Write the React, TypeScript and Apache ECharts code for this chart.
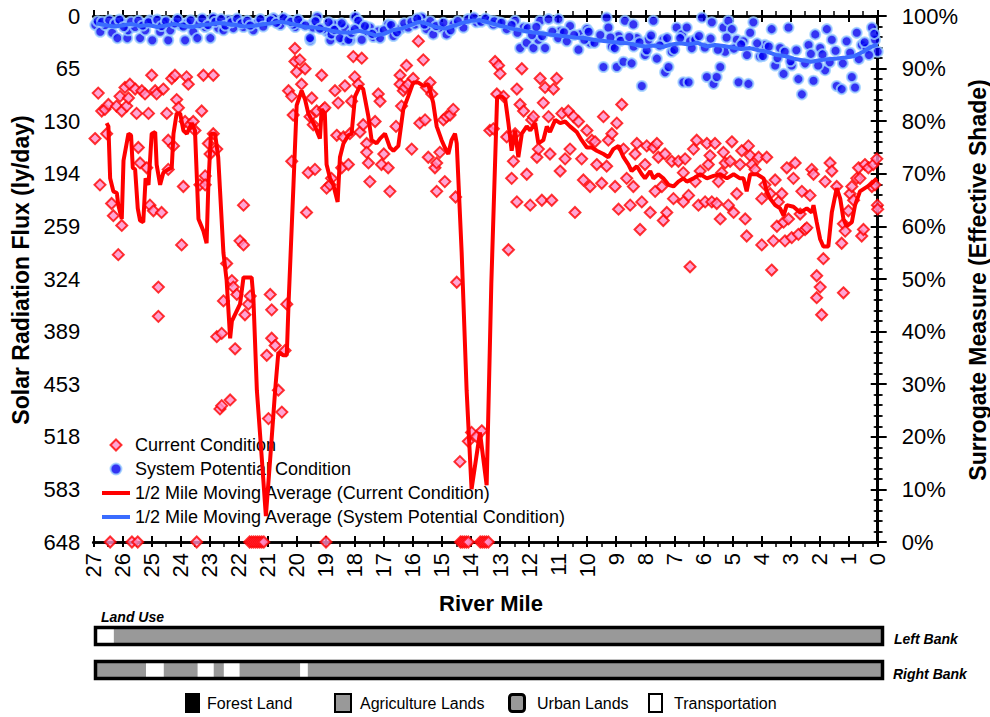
import React, { useEffect, useRef } from "react";
import * as echarts from "echarts";

// River mile axis (27 at the upstream/left end, 0 at the mouth)
const MILE_MIN = 0;
const MILE_MAX = 27;

// Left axis: solar radiation flux, ly/day (0 at top, 648 at bottom)
const FLUX_MAX = 648;
const FLUX_STEP = 64.8;
const FLUX_TICK_LABELS = ["0", "65", "130", "194", "259", "324", "389", "453", "518", "583", "648"];

// Right axis: effective shade in percent
const SHADE_TICK_LABELS = ["0%", "10%", "20%", "30%", "40%", "50%", "60%", "70%", "80%", "90%", "100%"];

const SERIES_NAMES = [
  "Current Condition",
  "System Potential Condition",
  "1/2 Mile Moving Average (Current Condition)",
  "1/2 Mile Moving Average (System Potential Condition)",
];

// Current condition samples: [river mile, flux ly/day]
const CURRENT_POINTS: [number, number][] = [
  [26.83, 95], [26.77, 208], [26.94, 151], [26.71, 117], [26.6, 115], [26.48, 109], [26.54, 145], [26.37, 231],
  [26.31, 246], [26.2, 111], [26.14, 294], [26.08, 99], [26.02, 117], [26.02, 258], [25.91, 88], [25.85, 111],
  [25.79, 101], [25.74, 84], [25.56, 90], [25.51, 120], [25.45, 162], [25.39, 181], [25.33, 92], [25.22, 96],
  [25.16, 187], [25.1, 120], [25.05, 233], [24.99, 73], [24.93, 240], [24.87, 92], [24.82, 96], [24.76, 334],
  [24.76, 370], [24.65, 242], [24.59, 90], [24.47, 120], [24.42, 153], [24.42, 189], [24.3, 77], [24.24, 160],
  [24.19, 73], [24.13, 103], [24.07, 113], [23.96, 282], [23.9, 210], [23.84, 130], [23.79, 75], [23.73, 84],
  [23.67, 134], [23.56, 130], [23.5, 141], [23.33, 208], [23.27, 117], [23.21, 73], [23.15, 197], [23.15, 208],
  [23.04, 157], [22.98, 170], [22.87, 73], [22.87, 145], [22.75, 164], [22.75, 395], [22.64, 484], [22.58, 480],
  [22.58, 391], [22.52, 351], [22.41, 305], [22.29, 473], [22.23, 326], [22.18, 334], [22.12, 410], [22.06, 343],
  [21.95, 277], [21.83, 282], [21.83, 233], [21.78, 368], [21.66, 355], [21.6, 345], [21.03, 418], [20.97, 496],
  [20.91, 343], [20.86, 362], [20.86, 397], [20.74, 406], [20.63, 461], [20.51, 488], [20.4, 412], [20.34, 355],
  [20.28, 92], [20.06, 56],
  [20.06, 40], [19.89, 54], [20.0, 69], [19.71, 65], [19.83, 84], [20.17, 99], [20.12, 122], [20.17, 179],
  [19.66, 242], [19.6, 193], [19.37, 189], [19.48, 101], [19.54, 124], [19.43, 134], [19.31, 117], [19.14, 73],
  [19.08, 115], [19.03, 113], [18.97, 212], [18.85, 208], [18.8, 200], [18.68, 92], [18.57, 107], [18.62, 147],
  [18.45, 187], [18.39, 149], [18.34, 86], [18.22, 183], [18.17, 145], [18.11, 105], [18.05, 50], [18.0, 75],
  [17.88, 84], [17.76, 52], [17.82, 143], [17.71, 134], [17.59, 157], [17.59, 168], [17.53, 181], [17.48, 204],
  [17.3, 130], [17.19, 96], [17.13, 105], [17.08, 183], [17.0, 170], [16.85, 187], [16.79, 216], [16.58, 136],
  [16.44, 73], [16.44, 84], [16.39, 111], [16.33, 92], [16.27, 88], [16.22, 61], [16.16, 84], [16.04, 164],
  [15.99, 77], [15.81, 31], [15.76, 132], [15.64, 54], [15.58, 128], [15.53, 88], [15.41, 82], [15.47, 174],
  [15.35, 96], [15.24, 187], [15.18, 181], [15.18, 216], [15.07, 168], [14.95, 128], [14.9, 204], [14.84, 124],
  [14.72, 122], [14.61, 115], [14.53, 223], [14.49, 328], [14.38, 549], [14.09, 524], [13.98, 513], [13.81, 518],
  [13.63, 511], [13.35, 141],
  [13.17, 56], [13.05, 61], [13.0, 71], [13.11, 96], [12.88, 99], [13.23, 139], [12.77, 149], [12.71, 288],
  [12.6, 200], [12.54, 179], [12.48, 145], [12.42, 90], [12.42, 229], [12.31, 109], [12.25, 65], [12.19, 117],
  [12.08, 195], [11.96, 233], [11.91, 128], [11.85, 124], [11.73, 174], [11.68, 164], [11.62, 77], [11.56, 227],
  [11.51, 107], [11.45, 88], [11.33, 124], [11.28, 170], [11.22, 227], [11.16, 90], [11.05, 77], [10.93, 191],
  [10.87, 120], [10.76, 176], [10.65, 117], [10.59, 164], [10.47, 124], [10.42, 242], [10.3, 130], [10.19, 176],
  [10.13, 202], [10.01, 141], [9.9, 210], [9.84, 153], [9.73, 155], [9.67, 183], [9.5, 206], [9.44, 124],
  [9.33, 185], [9.27, 153], [9.15, 145], [9.04, 210], [8.98, 132], [8.92, 238], [8.81, 109], [8.75, 164],
  [8.64, 200], [8.52, 233], [8.41, 210], [8.35, 170], [8.29, 157], [8.18, 263], [8.12, 229], [8.01, 183],
  [7.95, 160], [7.83, 242], [7.72, 162], [7.66, 216], [7.6, 157], [7.55, 174], [7.43, 210], [7.38, 252],
  [7.32, 170], [7.26, 242], [7.09, 179], [7.03, 225], [6.86, 179],
  [6.63, 176], [6.69, 193], [6.69, 229], [6.51, 221], [6.46, 309], [6.34, 164], [6.28, 204], [6.23, 153],
  [6.17, 233], [6.11, 191], [5.94, 229], [5.88, 157], [5.83, 183], [5.77, 172], [5.71, 229], [5.6, 157],
  [5.54, 231], [5.48, 204], [5.42, 250], [5.37, 193], [5.31, 168], [5.25, 181], [5.14, 233], [5.08, 179],
  [5.02, 155], [4.96, 242], [4.85, 219], [4.74, 183], [4.68, 166], [4.56, 250], [4.51, 271], [4.45, 160],
  [4.39, 172], [4.33, 183], [4.22, 189], [4.1, 174], [3.99, 282], [3.99, 225], [3.88, 208], [3.82, 174],
  [3.7, 219], [3.65, 313], [3.59, 277], [3.53, 202], [3.47, 259], [3.42, 229], [3.3, 219], [3.24, 254],
  [3.19, 277], [3.13, 187], [3.07, 250], [2.96, 273], [2.9, 200], [2.84, 181], [2.73, 269], [2.67, 244],
  [2.61, 216], [2.5, 263], [2.44, 261], [2.33, 221], [2.27, 189], [2.21, 195], [2.1, 320], [1.98, 334],
  [2.1, 347], [1.93, 368], [1.87, 299], [1.81, 204], [1.64, 181], [1.58, 191], [1.41, 210], [1.24, 280],
  [1.18, 341], [1.18, 256], [1.12, 265], [1.01, 240], [0.95, 219], [0.89, 210], [0.83, 227], [0.72, 200],
  [0.66, 187], [0.61, 200], [0.55, 271], [0.49, 263], [0.44, 183], [0.32, 187], [0.2, 210], [0.15, 183],
  [0.09, 208], [0.03, 176], [0.01, 233], [0.0, 238],
  // reaches with no effective shade data sit on the bottom of the axis
  [26.42, 648], [25.67, 648], [25.47, 648], [23.44, 648], [21.62, 648], [21.55, 648], [21.48, 648], [21.41, 648],
  [21.34, 648], [21.27, 648], [21.2, 648], [21.13, 648], [18.99, 648], [14.36, 648], [14.3, 648], [14.23, 648],
  [14.16, 648], [14.09, 648], [13.68, 648], [13.61, 648], [13.54, 648], [13.47, 648], [13.4, 648],
];

// System potential samples: [river mile, effective shade %]
const POTENTIAL_POINTS: [number, number][] = [
  [26.93, 98.3], [26.76, 97.0], [26.59, 98.3], [26.35, 96.8], [26.17, 95.8], [26.0, 98.7], [25.83, 95.8], [25.8, 97.3],
  [25.56, 97.9], [25.39, 95.8], [25.21, 97.3], [25.04, 99.2], [24.97, 95.4], [24.7, 97.0], [24.59, 98.9], [24.42, 95.4],
  [24.35, 97.3], [24.01, 98.3], [23.84, 95.4], [23.77, 98.7], [23.56, 97.0], [23.42, 95.8], [23.15, 97.9], [22.97, 95.8],
  [22.87, 99.6], [22.7, 97.7], [22.52, 97.3], [22.35, 99.2], [22.18, 97.7], [21.94, 98.9], [21.83, 97.9], [21.49, 97.3],
  [21.35, 98.7], [21.01, 98.9], [20.8, 99.6], [20.56, 98.3], [20.32, 99.2], [20.05, 97.9], [19.88, 98.7], [19.53, 95.4],
  [19.43, 98.7], [19.29, 99.8], [18.95, 97.0], [18.84, 95.4], [18.57, 98.3], [18.39, 95.4], [18.15, 95.4], [17.98, 99.8],
  [17.81, 98.3], [17.57, 97.0], [17.36, 96.0],
  [20.12, 98.4], [19.54, 95.8], [19.43, 97.8], [19.08, 97.5], [18.8, 96.5], [18.74, 98.4], [18.51, 95.8], [18.34, 97.8],
  [18.22, 95.5], [18.11, 96.8], [17.88, 99.1], [17.76, 95.5], [17.48, 97.8], [17.19, 97.1], [17.13, 95.8], [16.85, 98.4],
  [16.67, 96.2], [16.44, 97.5], [16.16, 97.8], [15.93, 98.4], [15.76, 99.1], [15.7, 99.7], [15.53, 97.5], [15.3, 96.5],
  [15.07, 97.8], [14.84, 96.5], [14.61, 98.4], [14.26, 97.8], [13.81, 98.8], [13.35, 99.1], [13.06, 98.8],
  [13.23, 98.4], [12.77, 97.5], [12.48, 99.1], [12.31, 93.9], [12.19, 97.8], [12.08, 94.9], [11.85, 93.9], [11.68, 95.5],
  [11.62, 99.1], [11.45, 93.9], [11.33, 99.4], [10.99, 99.4], [10.93, 97.1], [10.59, 98.1], [10.3, 93.6], [10.24, 96.5],
  [10.01, 97.5], [9.9, 94.9], [9.44, 90.3], [9.33, 99.7], [9.27, 97.8], [9.15, 94.2], [8.98, 90.3], [8.92, 96.2],
  [8.75, 91.3], [8.7, 99.1], [8.47, 91.0], [8.41, 98.4], [8.29, 95.8], [8.12, 86.7], [8.01, 92.6], [7.89, 95.5],
  [7.72, 99.1], [7.6, 91.9], [7.38, 95.5], [7.32, 89.3], [7.2, 90.3], [7.09, 93.2], [6.92, 97.8], [6.74, 96.5],
  [6.69, 87.4], [6.51, 87.4], [6.57, 97.8], [6.46, 95.2], [6.28, 95.5], [6.05, 99.7], [5.88, 88.4], [5.71, 98.8],
  [5.65, 87.1], [5.54, 88.4], [5.42, 90.3], [5.31, 97.8], [5.25, 93.2], [5.14, 99.1], [5.02, 97.5], [4.85, 95.5],
  [4.79, 87.4], [4.62, 95.2], [4.45, 87.1], [4.39, 96.8], [4.28, 98.8], [4.05, 92.3], [3.88, 94.5], [3.65, 97.5],
  [3.53, 90.6], [3.36, 93.9], [3.24, 89.0], [3.07, 97.8], [2.96, 90.6], [2.73, 88.0], [2.61, 85.1], [2.38, 94.5],
  [2.21, 87.7], [2.15, 96.5], [1.98, 93.9], [1.81, 89.7], [1.75, 97.5], [1.58, 95.5], [1.41, 86.7], [1.24, 86.1],
  [1.07, 95.2], [0.89, 88.4], [0.78, 86.4], [0.72, 96.8], [0.55, 94.5], [0.38, 93.9], [0.2, 97.8], [0.09, 95.5],
  [0.0, 93.2],
  [26.85, 99.0], [26.7, 98.9], [26.45, 99.2], [26.25, 98.6], [26.1, 99.3], [25.95, 97.9], [25.7, 98.9], [25.45, 99.1],
  [25.3, 98.2], [25.1, 98.8], [24.8, 99.3], [24.65, 98.1], [24.5, 99.0], [24.2, 98.6], [24.1, 99.4], [23.9, 98.0],
  [23.65, 99.2], [23.35, 98.5], [23.25, 99.5], [23.05, 98.3], [22.8, 98.9], [22.6, 99.4], [22.45, 98.2], [22.25, 98.8],
  [22.05, 99.5], [21.9, 98.6], [21.7, 99.1], [21.6, 98.2], [21.25, 99.4], [21.15, 98.0], [20.9, 99.2], [20.7, 98.7],
  [20.45, 99.6], [20.2, 98.9], [19.95, 99.3], [19.7, 98.2], [19.35, 99.0], [19.2, 97.6], [18.9, 98.8], [18.7, 97.4],
  [18.45, 98.6], [18.0, 97.5], [17.65, 98.1], [17.4, 96.6], [17.0, 97.3], [16.75, 98.3], [16.55, 96.9], [16.3, 98.6],
  [16.05, 98.9], [15.85, 99.5], [15.6, 98.4], [15.4, 99.0], [15.2, 98.1], [14.95, 98.7], [14.7, 97.3], [14.45, 99.0],
  [14.1, 99.4], [13.9, 99.7], [13.65, 98.9], [13.5, 99.5], [13.2, 99.0], [12.95, 98.7],
  [12.6, 98.3], [12.4, 96.8], [12.05, 97.7], [11.9, 96.4], [11.75, 97.9], [11.55, 96.2], [11.2, 97.0], [11.0, 95.8],
  [10.8, 96.9], [10.7, 95.2], [10.45, 96.4], [10.1, 95.5], [9.95, 97.0], [9.75, 94.9], [9.55, 96.4], [9.2, 95.9],
  [9.05, 93.9], [8.85, 95.3], [8.55, 96.0], [8.4, 94.2], [8.2, 95.0], [7.95, 93.5], [7.8, 96.3], [7.5, 94.4],
  [7.25, 95.8], [7.0, 93.6], [6.8, 95.8], [6.4, 93.9], [6.15, 96.2], [5.95, 94.0], [5.75, 95.7], [5.5, 93.6],
  [5.2, 95.9], [4.95, 93.8], [4.7, 94.6], [4.5, 92.6], [4.15, 94.8], [3.95, 92.4], [3.75, 94.2], [3.45, 92.0],
  [3.2, 93.2], [3.0, 91.4], [2.8, 93.5], [2.5, 91.0], [2.3, 92.8], [2.05, 90.6], [1.9, 92.7], [1.65, 91.2],
  [1.45, 93.4], [1.2, 91.0], [0.95, 93.0], [0.65, 91.8], [0.45, 95.0], [0.3, 92.6], [0.12, 96.6],
];

// Half-mile moving average of the current condition: [river mile, flux]
const CURRENT_AVG: [number, number][] = [
  [26.54, 132], [26.48, 136], [26.42, 200], [26.31, 216], [26.19, 218], [26.14, 233], [26.02, 250], [25.96, 178],
  [25.79, 145], [25.7, 147], [25.64, 187], [25.56, 189], [25.47, 237], [25.39, 252], [25.28, 254], [25.2, 200],
  [25.1, 208], [24.99, 145], [24.87, 143], [24.82, 183], [24.7, 208], [24.59, 193], [24.42, 189], [24.3, 187],
  [24.24, 145], [24.13, 120], [24.01, 120], [23.9, 141], [23.78, 145], [23.61, 132], [23.5, 141], [23.38, 250],
  [23.21, 265], [23.1, 280], [23.04, 208], [22.95, 145], [22.81, 145], [22.7, 174], [22.52, 292], [22.41, 326],
  [22.29, 397], [22.23, 376], [21.95, 355], [21.83, 322], [21.55, 322], [21.49, 347], [21.37, 461], [21.2, 545],
  [21.06, 616], [20.91, 545], [20.74, 461], [20.63, 414], [20.46, 418], [20.34, 418], [20.28, 355], [20.11, 208],
  [20.0, 110], [19.83, 92], [19.71, 103], [19.6, 120], [19.37, 136], [19.2, 151], [19.14, 115], [19.03, 120],
  [18.97, 183], [18.85, 200], [18.74, 208], [18.59, 229], [18.51, 174], [18.39, 157], [18.22, 147], [18.11, 145],
  [17.99, 99], [17.82, 86], [17.71, 90], [17.53, 124], [17.42, 153], [17.25, 157], [17.13, 151], [16.96, 145],
  [16.79, 162], [16.67, 166], [16.5, 160], [16.33, 115], [16.16, 99], [15.99, 82], [15.81, 82], [15.64, 86],
  [15.47, 84], [15.3, 107], [15.18, 136], [15.01, 153], [14.9, 162], [14.78, 170], [14.67, 153], [14.55, 145],
  [14.49, 157], [14.32, 292], [14.15, 461], [13.98, 583], [13.69, 513], [13.46, 578], [13.3, 330], [13.1, 100],
  [12.94, 99], [12.82, 103], [12.71, 132], [12.6, 166], [12.48, 141], [12.37, 174], [12.25, 145], [12.08, 136],
  [11.96, 141], [11.79, 132], [11.68, 157], [11.51, 153], [11.39, 136], [11.28, 143], [11.1, 128], [10.93, 132],
  [10.76, 130], [10.59, 136], [10.36, 143], [10.19, 153], [10.01, 162], [9.84, 162], [9.67, 166], [9.44, 170],
  [9.27, 174], [9.1, 164], [8.92, 160], [8.75, 174], [8.58, 183], [8.47, 191], [8.29, 185], [8.12, 195],
  [8.01, 200], [7.83, 191], [7.72, 200], [7.55, 195], [7.38, 200], [7.2, 208], [7.03, 210], [6.86, 204],
  [6.69, 200], [6.57, 204], [6.34, 200], [6.11, 195], [5.88, 200], [5.65, 197], [5.42, 195], [5.19, 200],
  [4.96, 195], [4.74, 200], [4.62, 200], [4.51, 216], [4.39, 195], [4.16, 195], [3.93, 200], [3.82, 216],
  [3.7, 225], [3.53, 233], [3.36, 237], [3.24, 246], [3.13, 233], [2.9, 235], [2.67, 242], [2.44, 237],
  [2.27, 242], [2.21, 233], [2.1, 254], [1.98, 275], [1.87, 284], [1.7, 284], [1.58, 242], [1.41, 212],
  [1.29, 225], [1.18, 250], [1.07, 259], [0.89, 254], [0.78, 233], [0.61, 216], [0.44, 212], [0.26, 208],
  [0.03, 200],
];

// Half-mile moving average of the system potential: [river mile, effective shade %]
const POTENTIAL_AVG: [number, number][] = [
  [26.9, 98.6], [26.6, 98.3], [26.3, 98.0], [26.0, 98.2], [25.7, 98.5], [25.4, 98.1], [25.1, 98.3], [24.8, 97.9],
  [24.5, 98.2], [24.2, 98.5], [23.9, 98.1], [23.6, 97.9], [23.3, 98.3], [23.0, 98.4], [22.7, 98.7], [22.4, 98.5],
  [22.1, 98.3], [21.8, 98.0], [21.5, 98.1], [21.2, 98.4], [20.9, 98.6], [20.6, 98.9], [20.3, 98.7], [20.0, 98.3],
  [19.7, 97.9], [19.4, 97.8], [19.1, 97.6], [18.8, 97.2], [18.5, 96.9], [18.2, 96.8], [17.9, 97.2], [17.6, 96.9],
  [17.3, 96.3], [17.0, 96.6], [16.7, 97.3], [16.4, 97.6], [16.1, 98.2], [15.8, 98.9], [15.5, 98.5], [15.2, 97.9],
  [14.9, 97.6], [14.6, 98.1], [14.3, 98.7], [14.0, 99.1], [13.7, 99.2], [13.4, 98.8], [13.1, 98.3], [12.8, 97.9],
  [12.5, 97.5], [12.2, 97.2], [11.9, 96.9], [11.6, 96.7], [11.3, 96.5], [11.0, 96.3], [10.7, 96.1], [10.4, 95.9],
  [10.1, 95.8], [9.8, 95.5], [9.5, 95.3], [9.2, 95.1], [8.9, 94.9], [8.6, 94.8], [8.3, 94.5], [8.0, 94.2],
  [7.7, 94.4], [7.4, 94.1], [7.1, 94.6], [6.8, 94.8], [6.5, 94.6], [6.2, 94.9], [5.9, 94.2], [5.6, 94.5],
  [5.3, 94.3], [5.0, 94.0], [4.7, 93.7], [4.4, 93.9], [4.1, 93.5], [3.8, 93.2], [3.5, 92.6], [3.2, 92.4],
  [2.9, 91.9], [2.6, 91.6], [2.3, 91.3], [2.0, 91.6], [1.7, 91.8], [1.4, 91.9], [1.1, 92.1], [0.8, 92.4],
  [0.5, 93.2], [0.2, 94.2], [0.0, 94.6],
];

// Land use along each bank: [from mile, to mile, land use index]
const LAND_USE_NAMES = ["Forest Land", "Agriculture Lands", "Urban Lands", "Transportation"];
const LEFT_BANK: [number, number, number][] = [
  [27, 26.42, 3],
  [26.42, 0, 1],
];
const RIGHT_BANK: [number, number, number][] = [
  [27, 25.31, 1],
  [25.31, 24.7, 3],
  [24.7, 23.53, 1],
  [23.53, 22.98, 3],
  [22.98, 22.63, 1],
  [22.63, 22.09, 3],
  [22.09, 20.0, 1],
  [20.0, 19.74, 3],
  [19.74, 0, 1],
];

const FONT = '"Liberation Sans", Arial, sans-serif';
const LAND_FILL = ["#000000", "#999999", "#999999", "#ffffff"];
const RED = "#ff0000";
const AVG_BLUE = "#3a6cff";

// legend glyphs (kept at their own aspect inside the legend item box)
const ICON_DIAMOND = "path://M0,-1L1,0L0,1L-1,0Z";
const ICON_CIRCLE = "path://M1,0A1,1,0,1,1,-1,0A1,1,0,1,1,1,0Z";
const ICON_BAR = "path://M0,0H28V4H0Z";

const PLOT = { left: 93.3, right: 877.7, top: 16, bottom: 542 };

function mileAxis(extra: any) {
  return {
    type: "value",
    min: MILE_MIN,
    max: MILE_MAX,
    interval: 1,
    inverse: true,
    splitLine: { show: false },
    ...extra,
  };
}

function landUseItem(params: any, api: any) {
  const a = api.coord([api.value(0), 1]);
  const b = api.coord([api.value(1), 0]);
  return {
    type: "rect",
    shape: {
      x: Math.min(a[0], b[0]),
      y: a[1],
      width: Math.abs(b[0] - a[0]),
      height: b[1] - a[1],
    },
    style: { fill: LAND_FILL[api.value(2)] },
  };
}

function text(x: number, y: number, str: string, font: string, opts: any = {}) {
  return {
    type: "text",
    x,
    y,
    rotation: opts.rotation || 0,
    z: 50,
    style: {
      text: str,
      font,
      fill: "#000",
      align: opts.align || "left",
      verticalAlign: "middle",
      textAlign: opts.align || "left",
      textVerticalAlign: "middle",
    },
  };
}

export default function App() {
  const ref = useRef<HTMLDivElement>(null);

  useEffect(() => {
    if (!ref.current) return;
    const chart = echarts.init(ref.current, undefined, { renderer: "svg" });

    const axisLine = { show: true, lineStyle: { color: "#000", width: 2.5 } };
    const tickStyle = { color: "#000", width: 2 };
    const labelFont = { color: "#000", fontSize: 22, fontFamily: FONT };

    const option: any = {
      animation: false,
      backgroundColor: "#ffffff",
      grid: [
        {
          left: PLOT.left,
          top: PLOT.top,
          width: PLOT.right - PLOT.left,
          height: PLOT.bottom - PLOT.top,
          containLabel: false,
        },
        { left: 97, width: 784, top: 629, height: 14 },
        { left: 97, width: 784, top: 663, height: 14 },
      ],
      xAxis: [
        mileAxis({
          gridIndex: 0,
          position: "bottom",
          axisLine,
          axisTick: { show: true, inside: false, length: 6, lineStyle: tickStyle },
          axisLabel: { ...labelFont, rotate: 90, margin: 11, formatter: (v: number) => String(Math.round(v)) },
        }),
        mileAxis({
          gridIndex: 0,
          position: "bottom",
          axisLine,
          axisTick: { show: true, inside: true, length: 6, lineStyle: tickStyle },
          minorTick: { show: true, splitNumber: 2, length: 5, lineStyle: { color: "#000", width: 1.5 } },
          axisLabel: { show: false },
        }),
        mileAxis({
          gridIndex: 0,
          position: "top",
          axisLine,
          axisTick: { show: true, inside: false, length: 6, lineStyle: tickStyle },
          axisLabel: { show: false },
        }),
        mileAxis({
          gridIndex: 0,
          position: "top",
          axisLine,
          axisTick: { show: true, inside: true, length: 5, lineStyle: tickStyle },
          minorTick: { show: true, splitNumber: 2, length: 5, lineStyle: { color: "#000", width: 1.5 } },
          axisLabel: { show: false },
        }),
        mileAxis({ gridIndex: 1, show: false }),
        mileAxis({ gridIndex: 2, show: false }),
      ],
      yAxis: [
        {
          type: "value",
          gridIndex: 0,
          position: "left",
          inverse: true,
          min: 0,
          max: FLUX_MAX,
          interval: FLUX_STEP,
          splitLine: { show: false },
          axisLine,
          axisTick: { show: true, inside: false, length: 7, lineStyle: tickStyle },
          minorTick: { show: true, splitNumber: 5, length: 4, lineStyle: { color: "#000", width: 1.5 } },
          axisLabel: {
            ...labelFont,
            margin: 13,
            formatter: (v: number) => FLUX_TICK_LABELS[Math.round(v / FLUX_STEP)] ?? "",
          },
        },
        {
          type: "value",
          gridIndex: 0,
          position: "left",
          inverse: true,
          min: 0,
          max: FLUX_MAX,
          interval: FLUX_STEP,
          splitLine: { show: false },
          axisLine,
          axisTick: { show: true, inside: true, length: 9, lineStyle: tickStyle },
          minorTick: { show: true, splitNumber: 5, length: 4, lineStyle: { color: "#000", width: 1.5 } },
          axisLabel: { show: false },
        },
        {
          type: "value",
          gridIndex: 0,
          position: "right",
          min: 0,
          max: 100,
          interval: 10,
          splitLine: { show: false },
          axisLine,
          axisTick: { show: true, inside: false, length: 8, lineStyle: tickStyle },
          minorTick: { show: true, splitNumber: 5, length: 5, lineStyle: { color: "#000", width: 1.5 } },
          axisLabel: {
            ...labelFont,
            margin: 24,
            formatter: (v: number) => SHADE_TICK_LABELS[Math.round(v / 10)] ?? "",
          },
        },
        {
          type: "value",
          gridIndex: 0,
          position: "right",
          min: 0,
          max: 100,
          interval: 10,
          splitLine: { show: false },
          axisLine,
          axisTick: { show: true, inside: true, length: 6, lineStyle: tickStyle },
          minorTick: { show: true, splitNumber: 5, length: 3, lineStyle: { color: "#000", width: 1.5 } },
          axisLabel: { show: false },
        },
        { type: "value", gridIndex: 1, min: 0, max: 1, show: false },
        { type: "value", gridIndex: 2, min: 0, max: 1, show: false },
      ],
      legend: {
        data: [
          { name: SERIES_NAMES[0], icon: ICON_DIAMOND },
          { name: SERIES_NAMES[1], icon: ICON_CIRCLE },
          { name: SERIES_NAMES[2], icon: ICON_BAR, itemStyle: { color: RED, borderWidth: 0 } },
          { name: SERIES_NAMES[3], icon: ICON_BAR, itemStyle: { color: AVG_BLUE, borderWidth: 0 } },
        ],
        orient: "vertical",
        left: 102,
        top: 436,
        padding: 0,
        itemWidth: 28,
        itemHeight: 11,
        itemGap: 6,
        symbolKeepAspect: true,
        selectedMode: false,
        textStyle: { fontSize: 18, fontFamily: FONT, color: "#000" },
      },
      series: [
        {
          name: SERIES_NAMES[0],
          type: "scatter",
          xAxisIndex: 0,
          yAxisIndex: 0,
          data: CURRENT_POINTS,
          symbol: "diamond",
          symbolSize: 11,
          itemStyle: { color: "#ff8ec8", borderColor: RED, borderWidth: 2 },
          z: 2,
        },
        {
          name: SERIES_NAMES[1],
          type: "scatter",
          xAxisIndex: 0,
          yAxisIndex: 2,
          data: POTENTIAL_POINTS,
          symbol: "circle",
          symbolSize: 10,
          itemStyle: { color: "#0000f0", borderColor: "#9cd0ff", borderWidth: 2 },
          z: 3,
        },
        {
          name: SERIES_NAMES[2],
          type: "line",
          xAxisIndex: 0,
          yAxisIndex: 0,
          data: CURRENT_AVG,
          symbol: "none",
          showSymbol: false,
          lineStyle: { color: RED, width: 4 },
          itemStyle: { color: RED, borderWidth: 0 },
          z: 4,
        },
        {
          name: SERIES_NAMES[3],
          type: "line",
          xAxisIndex: 0,
          yAxisIndex: 2,
          data: POTENTIAL_AVG,
          symbol: "none",
          showSymbol: false,
          lineStyle: { color: AVG_BLUE, width: 4 },
          itemStyle: { color: AVG_BLUE, borderWidth: 0 },
          z: 5,
        },
        {
          type: "custom",
          name: "Left Bank",
          xAxisIndex: 4,
          yAxisIndex: 4,
          data: LEFT_BANK,
          encode: { x: [0, 1] },
          renderItem: landUseItem,
          silent: true,
        },
        {
          type: "custom",
          name: "Right Bank",
          xAxisIndex: 5,
          yAxisIndex: 5,
          data: RIGHT_BANK,
          encode: { x: [0, 1] },
          renderItem: landUseItem,
          silent: true,
        },
      ],
      graphic: [
        text(21, 270, "Solar Radiation Flux (ly/day)", `bold 23px ${FONT}`, { rotation: Math.PI / 2, align: "center" }),
        text(978, 280, "Surrogate Measure (Effective Shade)", `bold 23px ${FONT}`, { rotation: Math.PI / 2, align: "center" }),
        text(491, 603, "River Mile", `bold 22px ${FONT}`, { align: "center" }),
        text(101, 617, "Land Use", `italic bold 14px ${FONT}`),
        text(894, 639, "Left Bank", `italic bold 14px ${FONT}`),
        text(893, 674, "Right Bank", `italic bold 14px ${FONT}`),
        // bank frames
        { type: "rect", z: 60, shape: { x: 95.5, y: 627.5, width: 787, height: 17 }, style: { fill: "none", stroke: "#000", lineWidth: 3.5 } },
        { type: "rect", z: 60, shape: { x: 95.5, y: 661.5, width: 787, height: 17 }, style: { fill: "none", stroke: "#000", lineWidth: 3.5 } },
        // land use key
        { type: "rect", z: 60, shape: { x: 186, y: 694, width: 13, height: 18 }, style: { fill: LAND_FILL[0], stroke: "#000", lineWidth: 2 } },
        text(207, 703, LAND_USE_NAMES[0], `16px ${FONT}`),
        { type: "rect", z: 60, shape: { x: 335, y: 694, width: 16, height: 18 }, style: { fill: LAND_FILL[1], stroke: "#000", lineWidth: 2 } },
        text(360, 703, LAND_USE_NAMES[1], `16px ${FONT}`),
        { type: "rect", z: 60, shape: { x: 509.5, y: 694.5, width: 15, height: 17, r: 3 }, style: { fill: LAND_FILL[2], stroke: "#000", lineWidth: 3 } },
        text(537, 703, LAND_USE_NAMES[2], `16px ${FONT}`),
        { type: "rect", z: 60, shape: { x: 649, y: 694, width: 13, height: 18 }, style: { fill: LAND_FILL[3], stroke: "#000", lineWidth: 2 } },
        text(674, 703, LAND_USE_NAMES[3], `16px ${FONT}`),
      ],
    };

    chart.setOption(option);
    return () => chart.dispose();
  }, []);

  return (
    <div
      ref={ref}
      style={{ position: "absolute", left: 0, top: 0, width: 990, height: 717, background: "#fff" }}
    />
  );
}
